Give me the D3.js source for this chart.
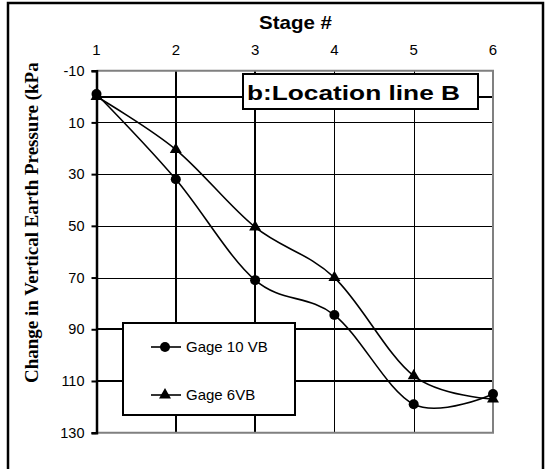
<!DOCTYPE html>
<html>
<head>
<meta charset="utf-8">
<script src="https://cdn.jsdelivr.net/npm/d3@7"></script>
<style>
  html, body { margin: 0; padding: 0; background: #fff; }
  svg { display: block; }
</style>
</head>
<body>
<svg id="chart" width="545" height="469"></svg>
<script>
// Earth pressure change at each construction stage, location line B
const stages = [1, 2, 3, 4, 5, 6];
const gage10VB = [-1, 32, 71, 84.5, 119, 115];
const gage6VB = [0, 20.5, 50.5, 70, 108, 117];
const yTicks = [-10, 10, 30, 50, 70, 90, 110, 130];
const seriesNames = ["Gage 10 VB", "Gage 6VB"];

const SANS = "'Liberation Sans', Arial, sans-serif";
const SERIF = "'Liberation Serif', 'Times New Roman', serif";

const svg = d3.select("#chart");

const x = d3.scaleLinear().domain([1, 6]).range([96.5, 493]);
const y = d3.scaleLinear().domain([-10, 130]).range([70.7, 432.7]);

// outer frame
svg.append("rect")
  .attr("x", 8).attr("y", 3).attr("width", 535).attr("height", 480)
  .attr("fill", "none").attr("stroke", "#000").attr("stroke-width", 2.5);

// horizontal gridlines
const hWidth = { 10: 1, 30: 1, 50: 1, 70: 1, 90: 2, 110: 2 };
svg.append("g").selectAll("line")
  .data(yTicks.filter(v => v > -10 && v < 130))
  .join("line")
  .attr("x1", x(1)).attr("x2", x(6))
  .attr("y1", d => Math.round(y(d)) + (hWidth[d] === 1 ? 0.5 : 0))
  .attr("y2", d => Math.round(y(d)) + (hWidth[d] === 1 ? 0.5 : 0))
  .attr("stroke", "#000").attr("stroke-width", d => hWidth[d]);

// zero line (category axis crossing)
svg.append("line")
  .attr("x1", x(1)).attr("x2", x(6))
  .attr("y1", Math.round(y(0))).attr("y2", Math.round(y(0)))
  .attr("stroke", "#000").attr("stroke-width", 2);

// vertical gridlines
const vWidth = { 2: 2, 3: 2, 4: 1, 5: 1 };
svg.append("g").selectAll("line")
  .data(stages.filter(s => s > 1 && s < 6))
  .join("line")
  .attr("x1", d => Math.round(x(d)) + (vWidth[d] === 1 ? 0.5 : 0))
  .attr("x2", d => Math.round(x(d)) + (vWidth[d] === 1 ? 0.5 : 0))
  .attr("y1", y(-10)).attr("y2", y(130))
  .attr("stroke", "#000").attr("stroke-width", d => vWidth[d]);

// plot-area border: grey top, right and bottom
svg.append("path")
  .attr("d", `M${x(1)},${y(-10)}H${x(6)}V${y(130)}H${x(1)}`)
  .attr("fill", "none").attr("stroke", "#808080").attr("stroke-width", 2);

// value axis on the left
const yAxis = svg.append("g")
  .attr("transform", `translate(${x(1)},0)`)
  .call(d3.axisLeft(y).tickValues(yTicks).tickFormat(d => String(d)).tickSize(5).tickPadding(7));
yAxis.select(".domain").attr("stroke", "#000").attr("stroke-width", 2.5);
yAxis.selectAll(".tick line").attr("stroke", "#000").attr("stroke-width", 2);
yAxis.selectAll(".tick text")
  .style("font-family", SANS).style("font-size", "14.5px")
  .attr("fill", "#000");

// stage labels along the top
svg.append("g").selectAll("text")
  .data(stages)
  .join("text")
  .attr("x", d => x(d)).attr("y", 55)
  .attr("text-anchor", "middle")
  .style("font-family", SANS).style("font-size", "15px")
  .text(d => d);

svg.append("text")
  .attr("x", 259).attr("y", 28.5)
  .style("font-family", SANS).style("font-size", "19px").style("font-weight", "bold")
  .attr("textLength", 73).attr("lengthAdjust", "spacingAndGlyphs")
  .text("Stage #");

// rotated value-axis title, clipped at the top like the source layout
svg.append("clipPath").attr("id", "ytitle-clip")
  .append("rect").attr("x", 0).attr("y", 63).attr("width", 80).attr("height", 400);
svg.append("g").attr("clip-path", "url(#ytitle-clip)")
  .append("text")
  .attr("transform", "translate(38,383) rotate(-90)")
  .style("font-family", SERIF).style("font-weight", "bold").style("font-size", "19px")
  .text("Change in Vertical Earth Pressure (kPa)");

// data series
const line = d3.line()
  .x((d, i) => x(stages[i]))
  .y(d => y(d))
  .curve(d3.curveCardinal.tension(0));

[gage10VB, gage6VB].forEach(vals => {
  svg.append("path")
    .attr("d", line(vals))
    .attr("fill", "none").attr("stroke", "#000").attr("stroke-width", 1.6);
});

svg.append("g").selectAll("circle")
  .data(gage10VB)
  .join("circle")
  .attr("cx", (d, i) => x(stages[i])).attr("cy", d => y(d))
  .attr("r", 5).attr("fill", "#000");

const tri = d3.symbol().type(d3.symbolTriangle).size(62);
svg.append("g").selectAll("path")
  .data(gage6VB)
  .join("path")
  .attr("d", tri)
  .attr("transform", (d, i) => `translate(${x(stages[i])},${y(d)})`)
  .attr("fill", "#000");

// chart title box
svg.append("rect")
  .attr("x", 243).attr("y", 74).attr("width", 235).attr("height", 35)
  .attr("fill", "#fff").attr("stroke", "#000").attr("stroke-width", 2);
svg.append("text")
  .attr("x", 247).attr("y", 100)
  .style("font-family", SANS).style("font-size", "20px").style("font-weight", "bold")
  .attr("textLength", 213).attr("lengthAdjust", "spacingAndGlyphs")
  .text("b:Location line B");

// legend
const legend = svg.append("g");
legend.append("rect")
  .attr("x", 123).attr("y", 323).attr("width", 172).attr("height", 92)
  .attr("fill", "#fff").attr("stroke", "#000").attr("stroke-width", 2);
const rows = [347, 395];
rows.forEach((ry, i) => {
  legend.append("line")
    .attr("x1", 151).attr("x2", 181).attr("y1", ry).attr("y2", ry)
    .attr("stroke", "#000").attr("stroke-width", 1.6);
  if (i === 0) {
    legend.append("circle").attr("cx", 165).attr("cy", ry).attr("r", 5).attr("fill", "#000");
  } else {
    legend.append("path").attr("d", tri).attr("transform", `translate(165,${ry})`).attr("fill", "#000");
  }
  legend.append("text")
    .attr("x", 186).attr("y", ry).attr("dy", "0.36em")
    .style("font-family", SANS).style("font-size", "15px")
    .text(seriesNames[i]);
});
</script>
</body>
</html>
